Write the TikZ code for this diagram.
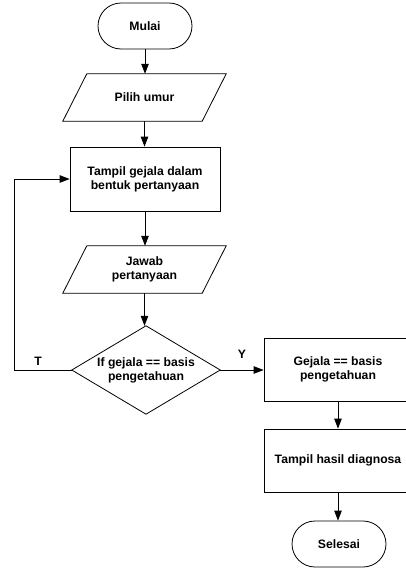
\documentclass[tikz,border=0pt]{standalone}
\usepackage{fontspec}
\setmainfont{Liberation Sans}
\usetikzlibrary{arrows.meta}
\begin{document}
\begin{tikzpicture}[x=1pt,y=-1pt,
  every node/.style={font=\fontsize{12.2}{13.8}\selectfont\bfseries, align=center, inner sep=0pt},
  line/.style={line width=0.8pt},
  arr/.style={line width=0.8pt, -{Triangle[length=10pt,width=7.5pt]}},
  terminal/.style={draw, line width=0.8pt, rounded corners=23pt, minimum width=94pt, minimum height=46pt},
  procbox/.style={draw, line width=0.8pt, minimum width=150pt, minimum height=64pt},
  iobox/.style={minimum width=139pt, minimum height=47pt},
  decbox/.style={minimum width=148pt, minimum height=88pt}]
\useasboundingbox (0,0) rectangle (406,568);
\clip (0,0) rectangle (406,568);
\fill[white] (0,0) rectangle (406,568);

\node[terminal] (mulai) at (145,26) {Mulai};
\node[iobox] (pilih) at (144.5,97.5) {Pilih umur};
\draw[line] ([xshift=-12pt]pilih.south west) -- ([xshift=12pt]pilih.north west) -- ([xshift=12pt]pilih.north east) -- ([xshift=-12pt]pilih.south east) -- cycle;
\node[procbox] (tampil) at (145,179) {Tampil gejala dalam\\bentuk pertanyaan};
\node[iobox] (jawab) at (144.5,269.5) {Jawab\\pertanyaan};
\draw[line] ([xshift=-12pt]jawab.south west) -- ([xshift=12pt]jawab.north west) -- ([xshift=12pt]jawab.north east) -- ([xshift=-12pt]jawab.south east) -- cycle;
\node[decbox] (dec) at (146,370) {If gejala == basis\\pengetahuan};
\draw[line] (dec.north) -- (dec.east) -- (dec.south) -- (dec.west) -- cycle;
\node[procbox, minimum width=148pt, minimum height=63pt] (cocok) at (338,369.5) {Gejala == basis\\pengetahuan};
\node[procbox, minimum width=148pt, minimum height=63pt] (hasil) at (338,460.5) {Tampil hasil diagnosa};
\node[terminal] (selesai) at (339,544) {Selesai};

\draw[arr] (mulai.south) -- (mulai.south |- pilih.north);
\draw[arr] (pilih.south) -- (pilih.south |- tampil.north);
\draw[arr] (tampil.south) -- (tampil.south |- jawab.north);
\draw[arr] (jawab.south) -- (jawab.south |- dec.north);
\draw[arr] (dec.west) -- ++(-57pt,0) |- (tampil.west);
\draw[arr] (dec.east) -- (dec.east -| cocok.west);
\draw[arr] (cocok.south) -- (hasil.north);
\draw[arr] (hasil.south) -- (hasil.south |- selesai.north);

\node (tlab) at (38,361) {T};
\node (ylab) at (242,354) {Y};
\end{tikzpicture}
\end{document}
